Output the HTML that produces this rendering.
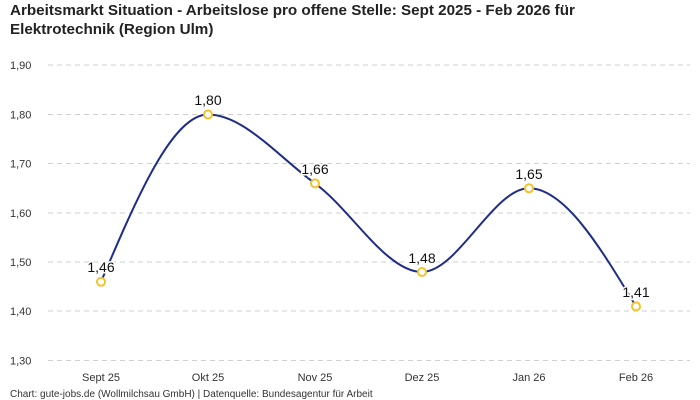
<!DOCTYPE html>
<html><head><meta charset="utf-8"><style>
html,body{margin:0;padding:0;background:#fff;}
svg{display:block;font-family:"Liberation Sans",sans-serif;}
</style></head><body>
<svg width="700" height="400" viewBox="0 0 700 400">
<text x="10" y="15" font-size="15.2" font-weight="bold" fill="#222">Arbeitsmarkt Situation - Arbeitslose pro offene Stelle: Sept 2025 - Feb 2026 für</text>
<text x="10" y="34" font-size="15.2" font-weight="bold" fill="#222">Elektrotechnik (Region Ulm)</text>
<g stroke="#cfcfcf" stroke-dasharray="5,4" stroke-width="1">
<line x1="48" x2="690" y1="65" y2="65"/><line x1="48" x2="690" y1="114.5" y2="114.5"/>
<line x1="48" x2="690" y1="163.5" y2="163.5"/><line x1="48" x2="690" y1="213" y2="213"/>
<line x1="48" x2="690" y1="262" y2="262"/><line x1="48" x2="690" y1="311" y2="311"/>
<line x1="48" x2="690" y1="360.5" y2="360.5"/>
</g>
<g font-size="11" fill="#333">
<text x="10" y="69">1,90</text><text x="10" y="118.5">1,80</text><text x="10" y="167.5">1,70</text>
<text x="10" y="217">1,60</text><text x="10" y="266">1,50</text><text x="10" y="315">1,40</text><text x="10" y="364.5">1,30</text>
</g>
<g font-size="11" fill="#333" text-anchor="middle">
<text x="101" y="381">Sept 25</text><text x="208" y="381">Okt 25</text><text x="315" y="381">Nov 25</text>
<text x="422" y="381">Dez 25</text><text x="529" y="381">Jan 26</text><text x="636" y="381">Feb 26</text>
</g>
<text x="10" y="397" font-size="10" fill="#333">Chart: gute-jobs.de (Wollmilchsau GmbH) | Datenquelle: Bundesagentur für Arbeit</text>
<path d="M101,281.8 C136.67,198.1 172.33,114.5 208,114.5 C243.67,114.5 279.33,157.56 315,183.4 C350.67,209.24 386.33,272 422,272 C457.67,272 493.33,188.3 529,188.3 C564.67,188.3 600.33,247.3 636,306.4" fill="none" stroke="#1f2d8a" stroke-width="2"/>
<g fill="#fff" stroke="#f5c22b" stroke-width="2">
<circle cx="101" cy="281.8" r="4"/><circle cx="208" cy="114.5" r="4"/><circle cx="315" cy="183.4" r="4"/>
<circle cx="422" cy="272" r="4"/><circle cx="529" cy="188.3" r="4"/><circle cx="636" cy="306.4" r="4"/>
</g>
<g font-size="14" font-weight="500" fill="#111" text-anchor="middle" stroke="#fff" stroke-width="3" paint-order="stroke">
<text x="101" y="272">1,46</text><text x="208" y="105">1,80</text><text x="315" y="174">1,66</text>
<text x="422" y="263">1,48</text><text x="529" y="179">1,65</text><text x="636" y="297">1,41</text>
</g>
</svg>
</body></html>
